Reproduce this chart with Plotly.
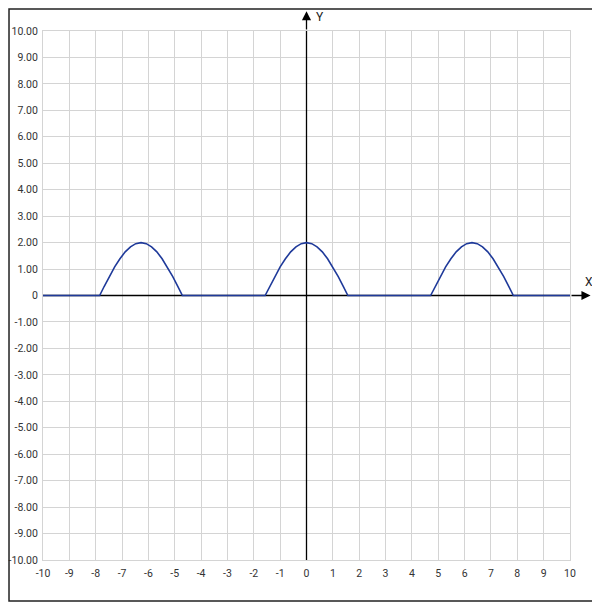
import plotly.graph_objects as go

# curve samples (humps centred at -6.28, 0, 6.28)
x_vals = [-10, -7.85, -7.68, -7.48, -7.28, -7.08, -6.88, -6.68, -6.48, -6.28,
          -6.08, -5.88, -5.68, -5.48, -5.28, -5.08, -4.88, -4.71,
          -1.57, -1.4, -1.2, -1.0, -0.8, -0.6, -0.4, -0.2, 0,
          0.2, 0.4, 0.6, 0.8, 1.0, 1.2, 1.4, 1.57,
          4.71, 4.88, 5.08, 5.28, 5.48, 5.68, 5.88, 6.08, 6.28,
          6.48, 6.68, 6.88, 7.08, 7.28, 7.48, 7.68, 7.85, 10]
y_vals = [0, 0, 0.34, 0.72, 1.08, 1.39, 1.65, 1.84, 1.96, 2.00,
          1.96, 1.84, 1.65, 1.39, 1.08, 0.72, 0.34, 0,
          0, 0.34, 0.72, 1.08, 1.39, 1.65, 1.84, 1.96, 2.00,
          1.96, 1.84, 1.65, 1.39, 1.08, 0.72, 0.34, 0,
          0, 0.34, 0.72, 1.08, 1.39, 1.65, 1.84, 1.96, 2.00,
          1.96, 1.84, 1.65, 1.39, 1.08, 0.72, 0.34, 0, 0]

x_ticks = list(range(-10, 11))
x_tick_text = [str(v) for v in x_ticks]
y_ticks = list(range(-10, 11))
y_tick_text = ["0" if v == 0 else f"{v:.2f}" for v in y_ticks]

grid_col = "#d4d4d4"
font = dict(family="Roboto, Arial, sans-serif", size=10.5, color="#333333")

fig = go.Figure()
fig.add_trace(go.Scatter(x=x_vals, y=y_vals, mode="lines",
                         line=dict(color="#1f3a9a", width=1.6),
                         hoverinfo="skip", showlegend=False))

fig.update_layout(
    width=592, height=600,
    margin=dict(l=35, r=30, t=23, b=48, autoexpand=False),
    paper_bgcolor="white", plot_bgcolor="white",
    font=font, showlegend=False,
    xaxis=dict(range=[-10, 10], tickvals=x_ticks, ticktext=x_tick_text,
               showgrid=True, gridcolor=grid_col, gridwidth=1,
               zeroline=False, showline=True, linecolor=grid_col, mirror=True,
               ticks="", ticklabelstandoff=3, fixedrange=True, automargin=False),
    yaxis=dict(range=[-10, 10], tickvals=y_ticks, ticktext=y_tick_text,
               showgrid=True, gridcolor=grid_col, gridwidth=1,
               zeroline=False, showline=True, linecolor=grid_col, mirror=True,
               ticks="", ticklabelstandoff=2, fixedrange=True, automargin=False),
    shapes=[
        dict(type="rect", xref="paper", yref="paper", x0=-0.0645, x1=1.0531,
             y0=-0.0775, y1=1.0416, line=dict(color="#222222", width=1.5)),
        dict(type="line", xref="x", yref="y", x0=-10, x1=10, y0=0, y1=0,
             line=dict(color="black", width=1.3), layer="between"),
        dict(type="line", xref="x", yref="y", x0=0, x1=0, y0=-10, y1=10,
             line=dict(color="black", width=1.3), layer="between"),
    ],
    annotations=[
        dict(x=10.78, y=0, ax=10, ay=0, xref="x", yref="y", axref="x", ayref="y",
             text="", showarrow=True, arrowhead=2, arrowsize=1.4, arrowwidth=1.3,
             arrowcolor="black"),
        dict(x=0, y=10.75, ax=0, ay=10, xref="x", yref="y", axref="x", ayref="y",
             text="", showarrow=True, arrowhead=2, arrowsize=1.4, arrowwidth=1.3,
             arrowcolor="black"),
        dict(x=1.047, y=0.5255, xref="paper", yref="paper", text="X", showarrow=False,
             font=dict(family="Roboto, Arial, sans-serif", size=12, color="#222222")),
        dict(x=0.5256, y=1.043, xref="paper", yref="paper", text="Y", showarrow=False,
             font=dict(family="Roboto, Arial, sans-serif", size=12, color="#222222")),
    ],
)

fig.write_html("out.html")
